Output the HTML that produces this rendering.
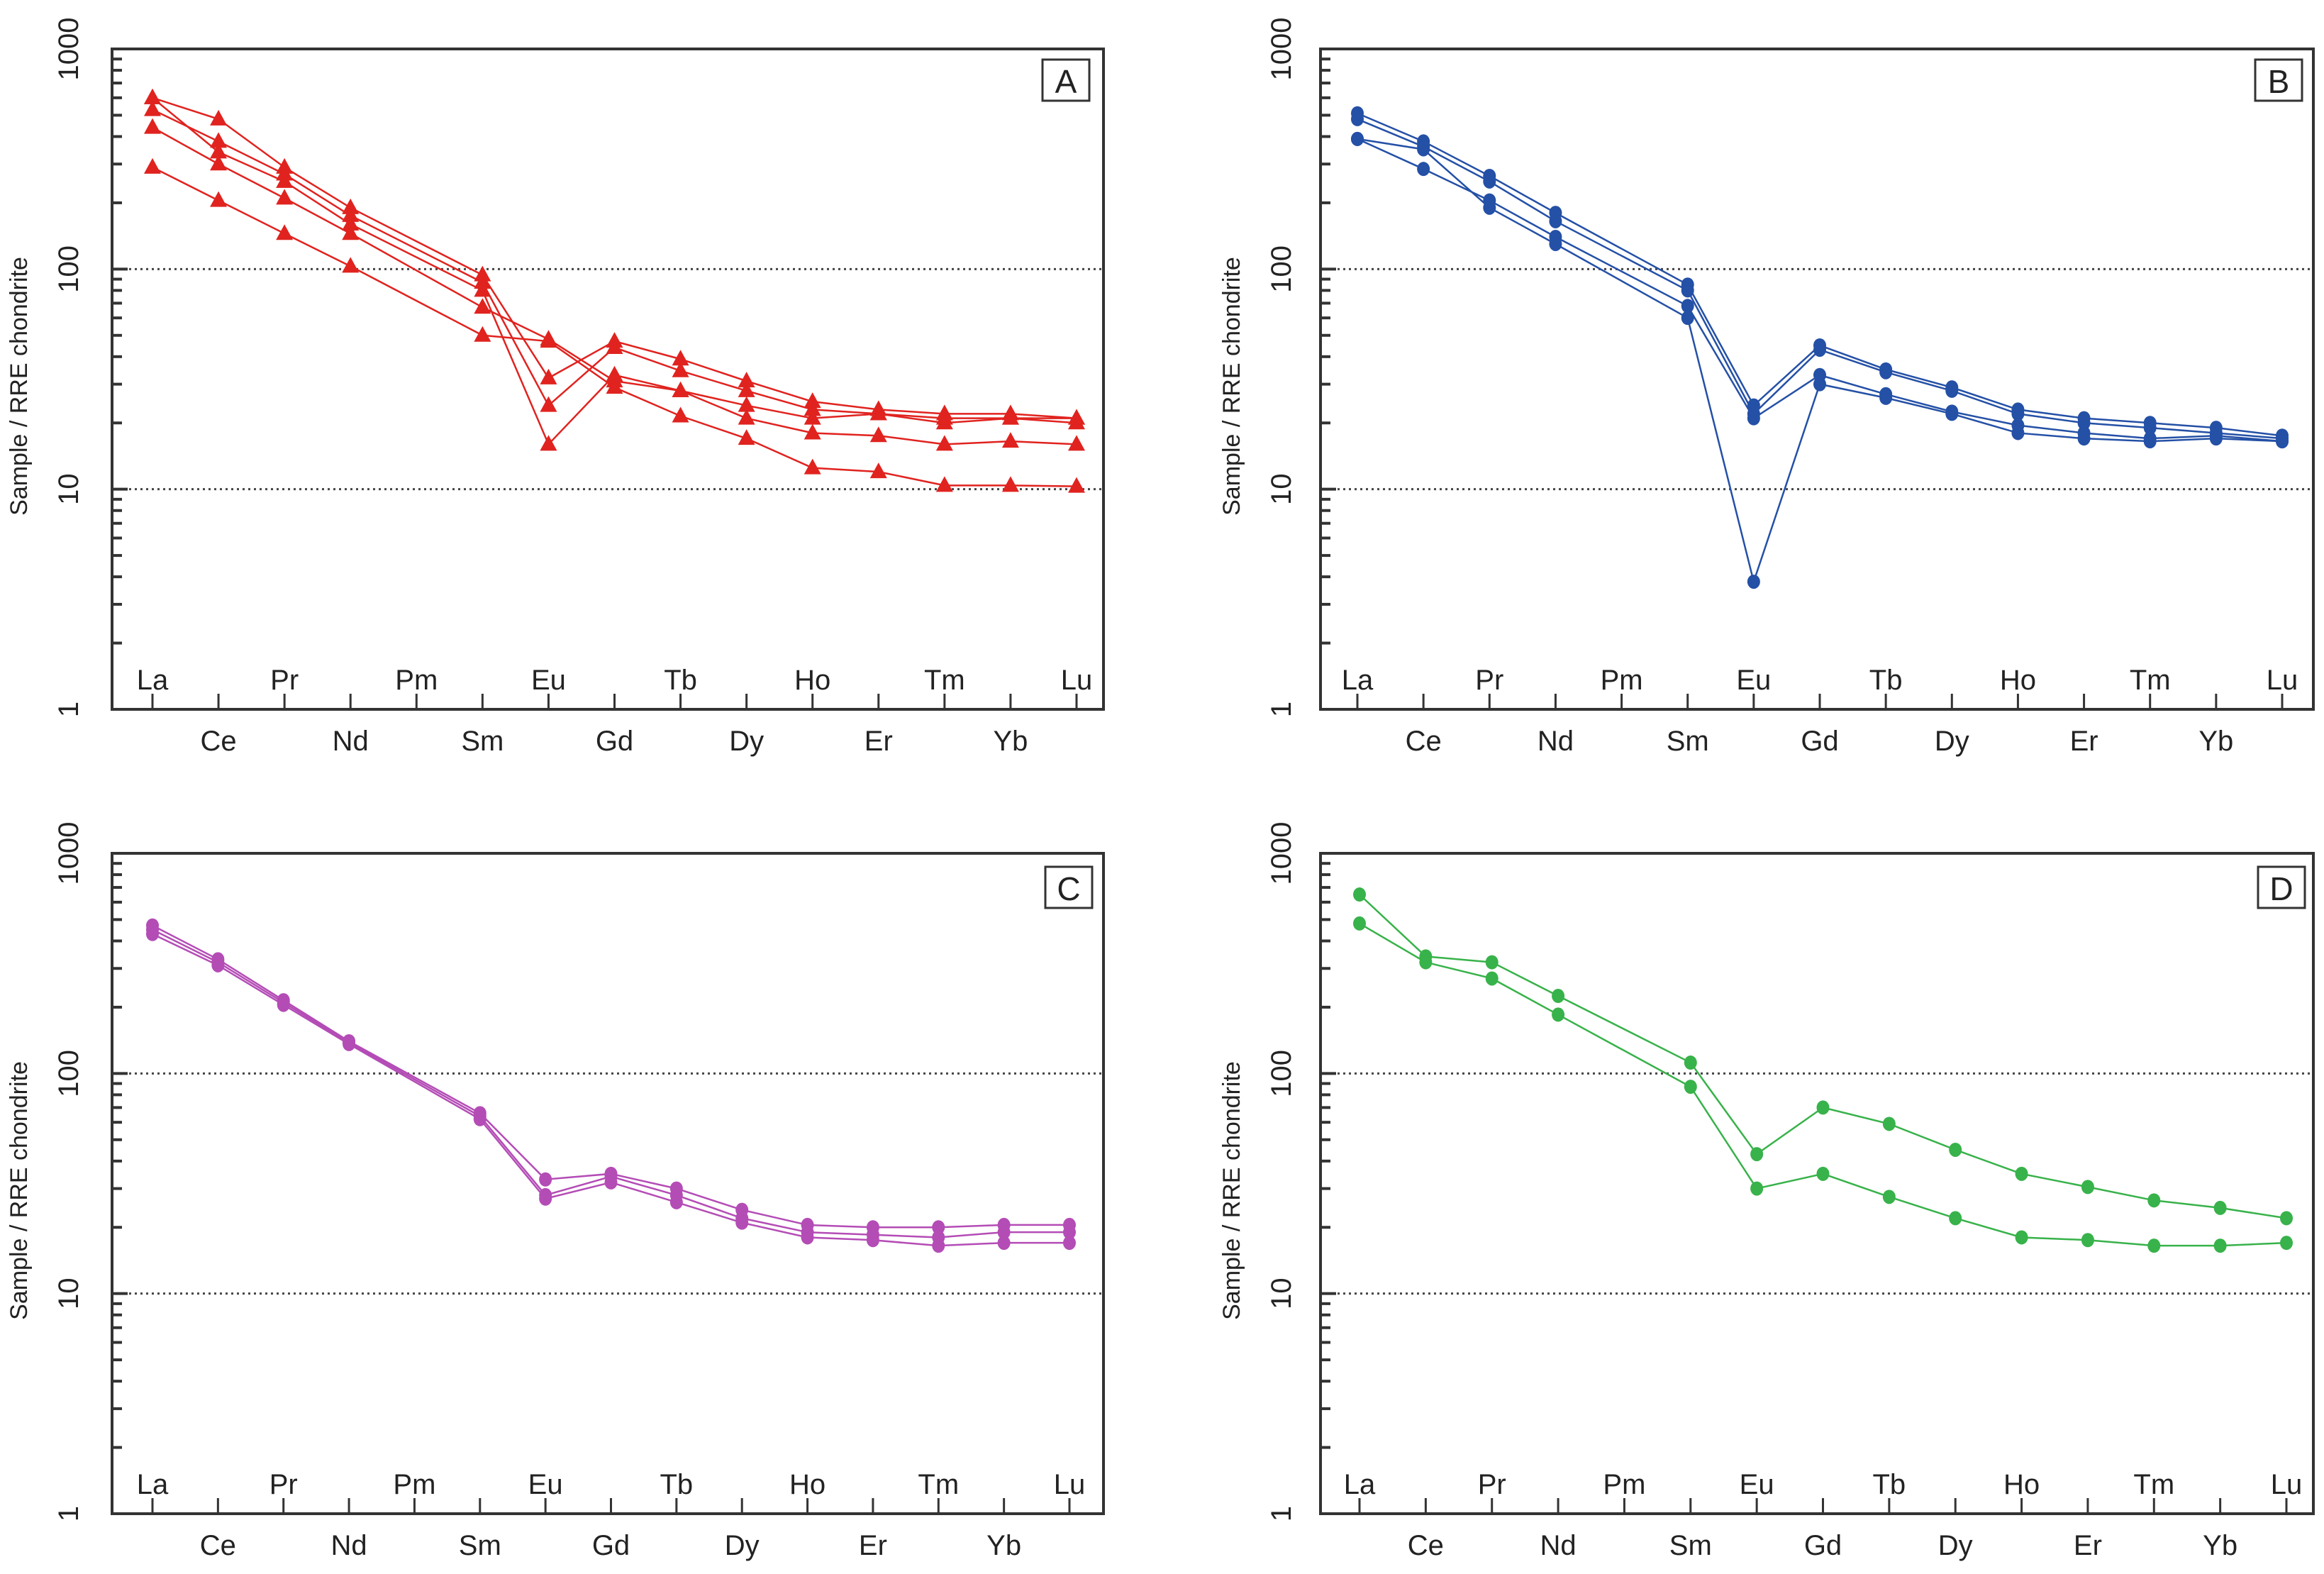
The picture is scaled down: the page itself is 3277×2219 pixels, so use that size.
<!DOCTYPE html>
<html><head><meta charset="utf-8"><style>
html,body{margin:0;padding:0;background:#fff;}
svg{display:block;}
text{font-family:"Liberation Sans",sans-serif;fill:#222;}
</style></head><body>
<svg id="fig" width="3277" height="2219" viewBox="0 0 3277 2219" xmlns="http://www.w3.org/2000/svg"></svg>
<script>
const elements = ["La","Ce","Pr","Nd","Pm","Sm","Eu","Gd","Tb","Dy","Ho","Er","Tm","Yb","Lu"];
const yTickLabels = ["1","10","100","1000"];
// Panel A (triangles, red)
const seriesA1 = [600,480,290,190,null,94,32,47,39,31,25,23,22,22,21];
const seriesA2 = [530,380,270,175,null,87,24,44,34.5,28,23,22,20,21,20];
const seriesA3 = [600,340,250,160,null,80,16,33,28,24,21,22,21,21,21];
const seriesA4 = [440,300,210,145,null,67,48,31,28,21,18,17.5,16,16.5,16];
const seriesA5 = [290,205,145,103,null,50,47,29,21.5,17,12.5,12,10.4,10.4,10.3];
// Panel B (circles, blue)
const seriesB1 = [510,380,265,180,null,85,24,45,35,29,23,21,20,19,17.5];
const seriesB2 = [480,360,250,165,null,80,22,43,34,28,22,20,19,18,17];
const seriesB3 = [390,285,205,140,null,68,21,33,27,22.5,19.5,18,17,17.5,16.5];
const seriesB4 = [390,350,190,130,null,60,3.8,30,26,22,18,17,16.5,17,16.5];
// Panel C (circles, purple)
const seriesC1 = [470,330,215,140,null,66,33,35,30,24,20.5,20,20,20.5,20.5];
const seriesC2 = [450,320,210,138,null,64,28,34,28,22,19,18.5,18,19,19];
const seriesC3 = [430,310,205,136,null,62,27,32,26,21,18,17.5,16.5,17,17];
// Panel D (circles, green)
const seriesD1 = [650,340,320,225,null,112,43,70,59,45,35,30.5,26.5,24.5,22];
const seriesD2 = [480,320,270,185,null,87,30,35,27.5,22,18,17.5,16.5,16.5,17];

const NS="http://www.w3.org/2000/svg";
const svg=document.getElementById('fig');
function mk(tag,attrs,parent){const e=document.createElementNS(NS,tag);for(const k in attrs)e.setAttribute(k,attrs[k]);(parent||svg).appendChild(e);return e;}

const panels=[
 {id:'a',letter:'A',x0:158,x1:1556,yT:69,yB:1000,la:215,lu:1518,color:'#e0231f',marker:'tri',series:[seriesA1,seriesA2,seriesA3,seriesA4,seriesA5],tickX:110,titleX:38,box:[1470,84]},
 {id:'b',letter:'B',x0:1862,x1:3262,yT:69,yB:1000,la:1914,lu:3218,color:'#2450a6',marker:'circ',series:[seriesB1,seriesB2,seriesB3,seriesB4],tickX:1820,titleX:1748,box:[3180,84]},
 {id:'c',letter:'C',x0:158,x1:1556,yT:1203,yB:2134,la:215,lu:1508,color:'#b44cb6',marker:'circ',series:[seriesC1,seriesC2,seriesC3],tickX:110,titleX:38,box:[1474,1222]},
 {id:'d',letter:'D',x0:1862,x1:3262,yT:1203,yB:2134,la:1917,lu:3224,color:'#38b24a',marker:'circ',series:[seriesD1,seriesD2],tickX:1820,titleX:1748,box:[3184,1222]}
];

panels.forEach(p=>{
  const g=mk('g',{});
  
  
  const xs=i=>p.la+(p.lu-p.la)*i/(elements.length-1);
  const ys=v=>p.yB-(p.yB-p.yT)*Math.log10(v)/3;
  [10,100].forEach(v=>{
    const l=mk('line',{x1:p.x0,x2:p.x1,y1:ys(v),y2:ys(v),stroke:'#444','stroke-width':3,'stroke-dasharray':'3 5'},g);
    
    
  });
  const fr=mk('rect',{x:p.x0,y:p.yT,width:p.x1-p.x0,height:p.yB-p.yT,fill:'none',stroke:'#333','stroke-width':4},g);
  
  
  for(let d=0;d<3;d++){for(let m=1;m<10;m++){const v=Math.pow(10,d)*m;
    const len=m===1?22:14;
    mk('line',{x1:p.x0,x2:p.x0+len,y1:ys(v),y2:ys(v),stroke:'#333','stroke-width':4},g);}}
  yTickLabels.forEach((t,i)=>{
    const y=ys(Math.pow(10,i));
    const tx=mk('text',{x:p.tickX,y:y,'font-size':40,'text-anchor':'middle',transform:`rotate(-90 ${p.tickX} ${y})`},g);
    tx.textContent=t;
    
    
  });
  const tcy=(p.yT+p.yB)/2+10;
  const tt=mk('text',{x:p.titleX,y:tcy,'font-size':34,'text-anchor':'middle',transform:`rotate(-90 ${p.titleX} ${tcy})`,fill:'#333'},g);
  tt.textContent='Sample / RRE chondrite';
  
  
  elements.forEach((el,i)=>{
    const x=xs(i);
    mk('line',{x1:x,x2:x,y1:p.yB,y2:p.yB-22,stroke:'#333','stroke-width':3},g);
    const top=i%2===0;
    const tx=mk('text',{x:x,y:top?p.yB-28:p.yB+58,'font-size':40,'text-anchor':'middle'},g);
    tx.textContent=el;
    
    
  });
  const bx=mk('rect',{x:p.box[0],y:p.box[1],width:66,height:58,fill:'#fff',stroke:'#333','stroke-width':3},g);
  
  
  const lt=mk('text',{x:p.box[0]+33,y:p.box[1]+47,'font-size':46,'text-anchor':'middle'},g);
  lt.textContent=p.letter;
  
  
  p.series.forEach((s,si)=>{
    const sg=mk('g',{},g);
    
    
    const pts=[];
    s.forEach((v,i)=>{if(v!=null)pts.push([xs(i),ys(v)]);});
    mk('polyline',{points:pts.map(q=>q.join(',')).join(' '),fill:'none',stroke:p.color,'stroke-width':2.5},sg);
    pts.forEach(q=>{
      let m;
      if(p.marker==='tri'){
        m=mk('polygon',{points:`${q[0]},${q[1]-13} ${q[0]-12},${q[1]+9} ${q[0]+12},${q[1]+9}`,fill:p.color},sg);
      } else {
        m=mk('ellipse',{cx:q[0],cy:q[1],rx:9,ry:10,fill:p.color},sg);
      }
      
      
    });
  });
});
</script>
</body></html>
